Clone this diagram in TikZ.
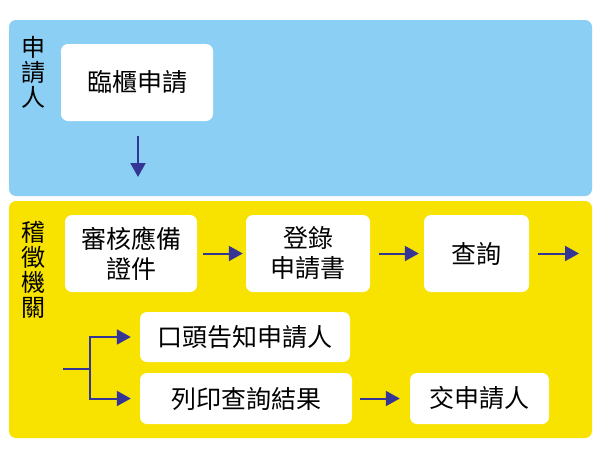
\documentclass[tikz,border=0pt]{standalone}
\usepackage{fontspec}
\setmainfont{Noto Sans CJK TC}
\usetikzlibrary{arrows.meta}
\definecolor{bluebg}{HTML}{8BCFF4}
\definecolor{yellowbg}{HTML}{F7E200}
\definecolor{arrowc}{HTML}{353596}
\tikzset{
  region/.style={rounded corners=7pt, draw=none},
  stepbox/.style={fill=white, draw=none, rounded corners=7pt, inner sep=0pt, align=center,
    font=\fontsize{25}{30}\selectfont},
  sidelabel/.style={inner sep=0pt, align=center, font=\fontsize{24}{25}\selectfont},
  flow/.style={draw=arrowc, line width=2pt, -{Triangle[length=14pt,width=15pt]}},
  plain/.style={draw=arrowc, line width=2pt}
}
\begin{document}
\begin{tikzpicture}[x=1pt,y=-1pt]
\useasboundingbox[fill=white] (0,0) rectangle (600,453);
\fill[bluebg, region] (9,20) rectangle (592,196);
\fill[yellowbg, region] (9,201) rectangle (592,438);

\node[sidelabel] (lab1) at (33,72) {申\\請\\人};
\node[sidelabel] (lab2) at (33,270) {稽\\徵\\機\\關};

\node[stepbox, minimum width=152pt, minimum height=77pt] (a) at (137,82.5) {臨櫃申請};
\node[stepbox, minimum width=132pt, minimum height=77pt] (b) at (131,253.5) {審核應備\\證件};
\node[stepbox, minimum width=124pt, minimum height=77pt] (c) at (308,253.5) {登錄\\申請書};
\node[stepbox, minimum width=105pt, minimum height=77pt] (d) at (476.5,253.5) {查詢};
\node[stepbox, minimum width=210pt, minimum height=50pt] (e) at (245,337) {口頭告知申請人};
\node[stepbox, minimum width=212pt, minimum height=51pt] (f) at (246,398.5) {列印查詢結果};
\node[stepbox, minimum width=139pt, minimum height=51pt] (g) at (479.5,398.5) {交申請人};

\coordinate (dstart) at (138,136);
\coordinate (dend) at (138,177);
\coordinate (rend) at (579,253.5);
\coordinate (br) at (63,369);
\coordinate (bj) at (90,369);

\draw[flow] (dstart) -- (dend);
\draw[flow, shorten <=6pt, shorten >=3pt] (b) -- (c);
\draw[flow, shorten <=9pt, shorten >=5pt] (c) -- (d);
\draw[flow, shorten <=9pt] (d.east) -- (rend);
\draw[flow, shorten <=8pt, shorten >=10pt] (f) -- (g);
\draw[plain] (br) -- (bj);
\draw[flow, shorten >=9pt] (bj) |- (e.west);
\draw[flow, shorten >=9pt] (bj) |- (f.west);
\end{tikzpicture}
\end{document}
